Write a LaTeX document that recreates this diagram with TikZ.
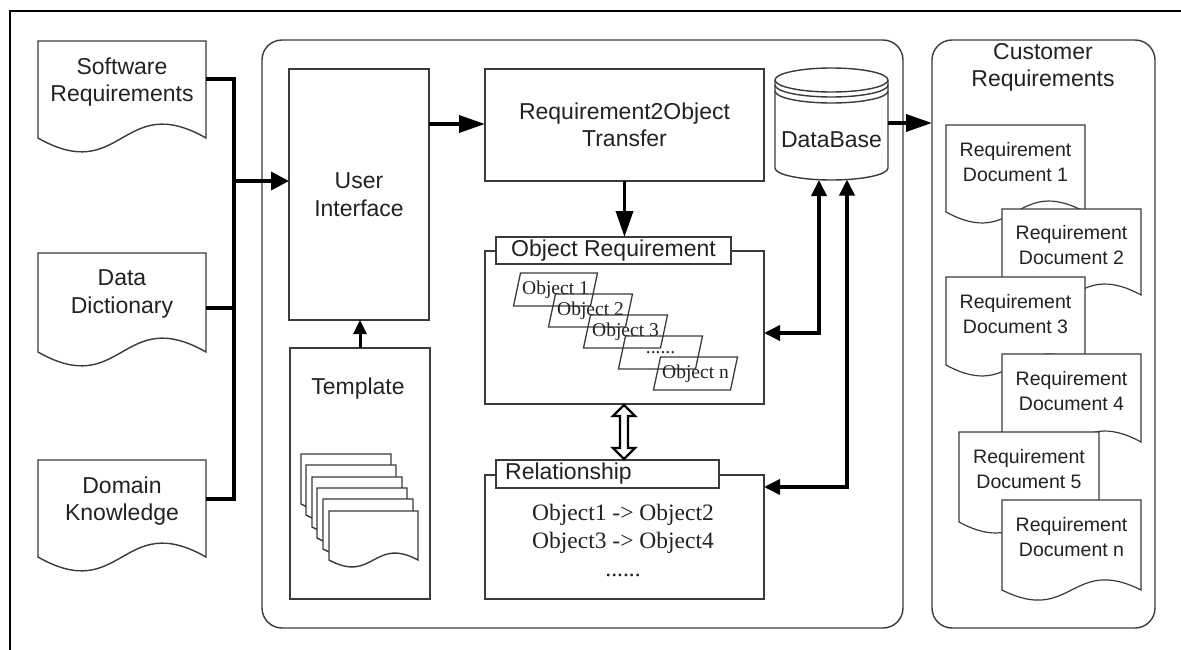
\documentclass[tikz,border=0pt]{standalone}
\usepackage{fontspec}
\setmainfont{Liberation Serif}
\setsansfont{Liberation Sans}
\usetikzlibrary{arrows.meta,calc}

\definecolor{ink}{HTML}{222222}
\definecolor{edge}{HTML}{3A3A3A}

\tikzset{
  lbl/.style={font=\sffamily\fontsize{23}{27.5}\selectfont, text=ink, align=center, inner sep=0pt},
  doclbl/.style={font=\sffamily\fontsize{19.5}{24.5}\selectfont, text=ink, align=center, inner sep=0pt},
  objlbl/.style={font=\rmfamily\fontsize{19.5}{22}\selectfont, text=ink, inner sep=0pt},
  rellbl/.style={font=\rmfamily\fontsize{23.5}{28}\selectfont, text=ink, align=center, inner sep=0pt},
  outline/.style={draw=edge, line width=1.4pt},
  box/.style={outline, rectangle, inner sep=0pt, outer sep=0pt, anchor=north west},
  area/.style={rectangle, inner sep=0pt, outer sep=0pt, anchor=north west},
  container/.style={box, rounded corners=20pt},
  wire/.style={line width=3.6pt, black},
  thinwire/.style={line width=3pt, black},
  bigtip/.style={-{Triangle[length=26pt,width=17pt]}},
  midtip/.style={-{Triangle[length=18pt,width=18pt]}},
  smalltip/.style={-{Triangle[length=14pt,width=13pt]}},
  bothtips/.style={{Triangle[length=16pt,width=15pt]}-{Triangle[length=16pt,width=15pt]}},
  hollow/.style={draw=black, line width=2.4pt, fill=white, line join=miter},
}

% document sheet with a wavy lower edge: [options]{name}{x,y}{width}{height}{wave}
\newcommand{\docsheet}[6][]{%
  \node[area, minimum width=#4pt, minimum height=#5pt] (#2) at (#3) {};
  \draw[outline, fill=white, #1] (#2.north west) -- (#2.north east) -- (#2.south east)
    .. controls ($(#2.south)+(0,-#6)$) and ($(#2.south)+(0,#6)$) .. (#2.south west) -- cycle;
}

% slanted object card: {name}{centre}{label}
\newcommand{\objcard}[3]{%
  \draw[outline, line width=1.3pt] ($(#2)+(-35,-16.5)$) -- ++(77,0) -- ++(-7,33) -- ++(-77,0) -- cycle;
  \node[objlbl] (#1) at (#2) {#3};
}

\begin{document}
\begin{tikzpicture}[x=1pt, y=-1pt]
\useasboundingbox (0,0) rectangle (1181,650);

% page frame
\draw[line width=2pt, black] (1190,11) -- (10,11) -- (10,660);

% ---------------- input documents ----------------
\docsheet{sw}{38,41}{168}{97}{48}
\node[lbl] (swt) at (122,82) {Software\\Requirements};
\docsheet{dd}{38,253}{168}{99}{48}
\node[lbl] (ddt) at (122,294) {Data\\Dictionary};
\docsheet{dk}{38,460}{168}{97}{48}
\node[lbl] (dkt) at (122,501) {Domain\\Knowledge};

% ---------------- containers ----------------
\node[container, minimum width=641pt, minimum height=588pt] (sys) at (262,40) {};
\node[container, minimum width=223pt, minimum height=588pt] (cust) at (932,40) {};
\node[lbl] (custt) at (1043,67.5) {Customer\\Requirements};

% ---------------- system blocks ----------------
\node[box, minimum width=140pt, minimum height=251pt, lbl] (ui) at (289,69) {User\\Interface};
\node[box, minimum width=279pt, minimum height=112pt, lbl] (r2o) at (485,69) {Requirement2Object\\Transfer};

\node[box, minimum width=140pt, minimum height=251pt] (tmpl) at (290,348) {};
\node[lbl] (tmplt) at (358,389) {Template};
\docsheet{t1}{301,454}{90}{50}{24}
\docsheet{t2}{306,465}{90}{50}{24}
\docsheet{t3}{312,477}{90}{50}{24}
\docsheet{t4}{317,488}{90}{50}{24}
\docsheet{t5}{323,499}{90}{50}{24}
\docsheet{t6}{329,511}{89}{49}{24}

% object requirement panel
\node[box, minimum width=279pt, minimum height=153pt] (orf) at (485,251) {};
\node[box, fill=white, minimum width=235pt, minimum height=27pt, lbl] (ortab) at (496,237) {Object Requirement};
\objcard{o1}{555.5,289.5}{Object 1}
\objcard{o2}{590.5,310.5}{Object 2}
\objcard{o3}{625.5,331.5}{Object 3}
\objcard{o4}{660.5,352.5}{......}
\objcard{o5}{695.5,373.5}{Object n}

% relationship panel
\node[box, minimum width=279pt, minimum height=124pt] (relf) at (485,475) {};
\node[box, fill=white, minimum width=223pt, minimum height=28pt] (reltab) at (496,460) {};
\node[lbl, anchor=west] (relt) at ($(reltab.west)+(9,0)$) {Relationship};
\node[rellbl, anchor=north] (relbody) at (623,504) {Object1 -> Object2\\Object3 -> Object4\\......};

% database cylinder
\node[area, minimum width=113pt, minimum height=112pt] (db) at (775,68) {};
\draw[outline, fill=white] (775,80) -- (775,168)
  arc[start angle=180, end angle=360, x radius=56.5pt, y radius=12pt] -- (888,80)
  arc[start angle=0, end angle=180, x radius=56.5pt, y radius=12pt] -- cycle;
\draw[outline] (775,80) arc[start angle=180, end angle=360, x radius=56.5pt, y radius=12pt];
\draw[outline] (775,85) arc[start angle=180, end angle=360, x radius=56.5pt, y radius=12pt];
\draw[outline] (775,91) arc[start angle=180, end angle=360, x radius=56.5pt, y radius=12pt];
\node[lbl] (dbt) at (831.5,140) {DataBase};

% ---------------- customer documents ----------------
\docsheet[line width=1.2pt]{c1}{946,125}{139}{87}{38}
\node[doclbl] (c1t) at ($(c1.north)+(0,37)$) {Requirement\\Document 1};
\docsheet[line width=1.2pt]{c2}{1002,209}{139}{86}{38}
\node[doclbl] (c2t) at ($(c2.north)+(0,36)$) {Requirement\\Document 2};
\docsheet[line width=1.2pt]{c3}{946,277}{139}{88}{38}
\node[doclbl] (c3t) at ($(c3.north)+(0,37)$) {Requirement\\Document 3};
\docsheet[line width=1.2pt]{c4}{1002,354}{139}{88}{38}
\node[doclbl] (c4t) at ($(c4.north)+(0,37)$) {Requirement\\Document 4};
\docsheet[line width=1.2pt]{c5}{959,432}{140}{90}{38}
\node[doclbl] (c5t) at ($(c5.north)+(0,37)$) {Requirement\\Document 5};
\docsheet[line width=1.2pt]{cn}{1002,500}{139}{90}{35}
\node[doclbl] (cnt) at ($(cn.north)+(0,37)$) {Requirement\\Document n};

% ---------------- connectors ----------------
\coordinate (swout) at ($(sw.north east)+(0,38)$);
\coordinate (ddout) at ($(dd.north east)+(0,55)$);
\coordinate (dkout) at ($(dk.north east)+(0,39)$);
\coordinate (busT) at (234,79);
\coordinate (busB) at (234,499);
\coordinate (busM) at (234,181);
\draw[wire] (swout) -- (busT) -- (busB) -- (dkout);
\draw[wire] (ddout) -- (ddout -| busT);
\draw[wire, midtip] (busM) -- (busM -| ui.west);

\draw[wire, bigtip] ($(ui.north east)+(0,55)$) -- ($(r2o.north west)+(0,55)$);
\draw[wire, bigtip] (r2o.south) -- (r2o.south |- ortab.north);
\draw[thinwire, smalltip] (tmpl.north) -- (tmpl.north |- ui.south);
\draw[wire, bigtip] ($(db.north east)+(0,55)$) -- ($(cust.north west)+(0,83)$);

\coordinate (dbA) at (819,180);
\coordinate (dbB) at (847,179.5);
\draw[wire, bothtips] ($(orf.north east)+(0,82)$) -| (dbA);
\draw[wire, bothtips] ($(relf.north east)+(0,12)$) -| (dbB);

% hollow two-way arrow between the panels
\draw[hollow] (624,405) -- ++(11,11) -- ++(-7,0) -- ++(0,32) -- ++(7,0) -- ++(-11,11)
  -- ++(-11,-11) -- ++(7,0) -- ++(0,-32) -- ++(-7,0) -- cycle;
\end{tikzpicture}
\end{document}
